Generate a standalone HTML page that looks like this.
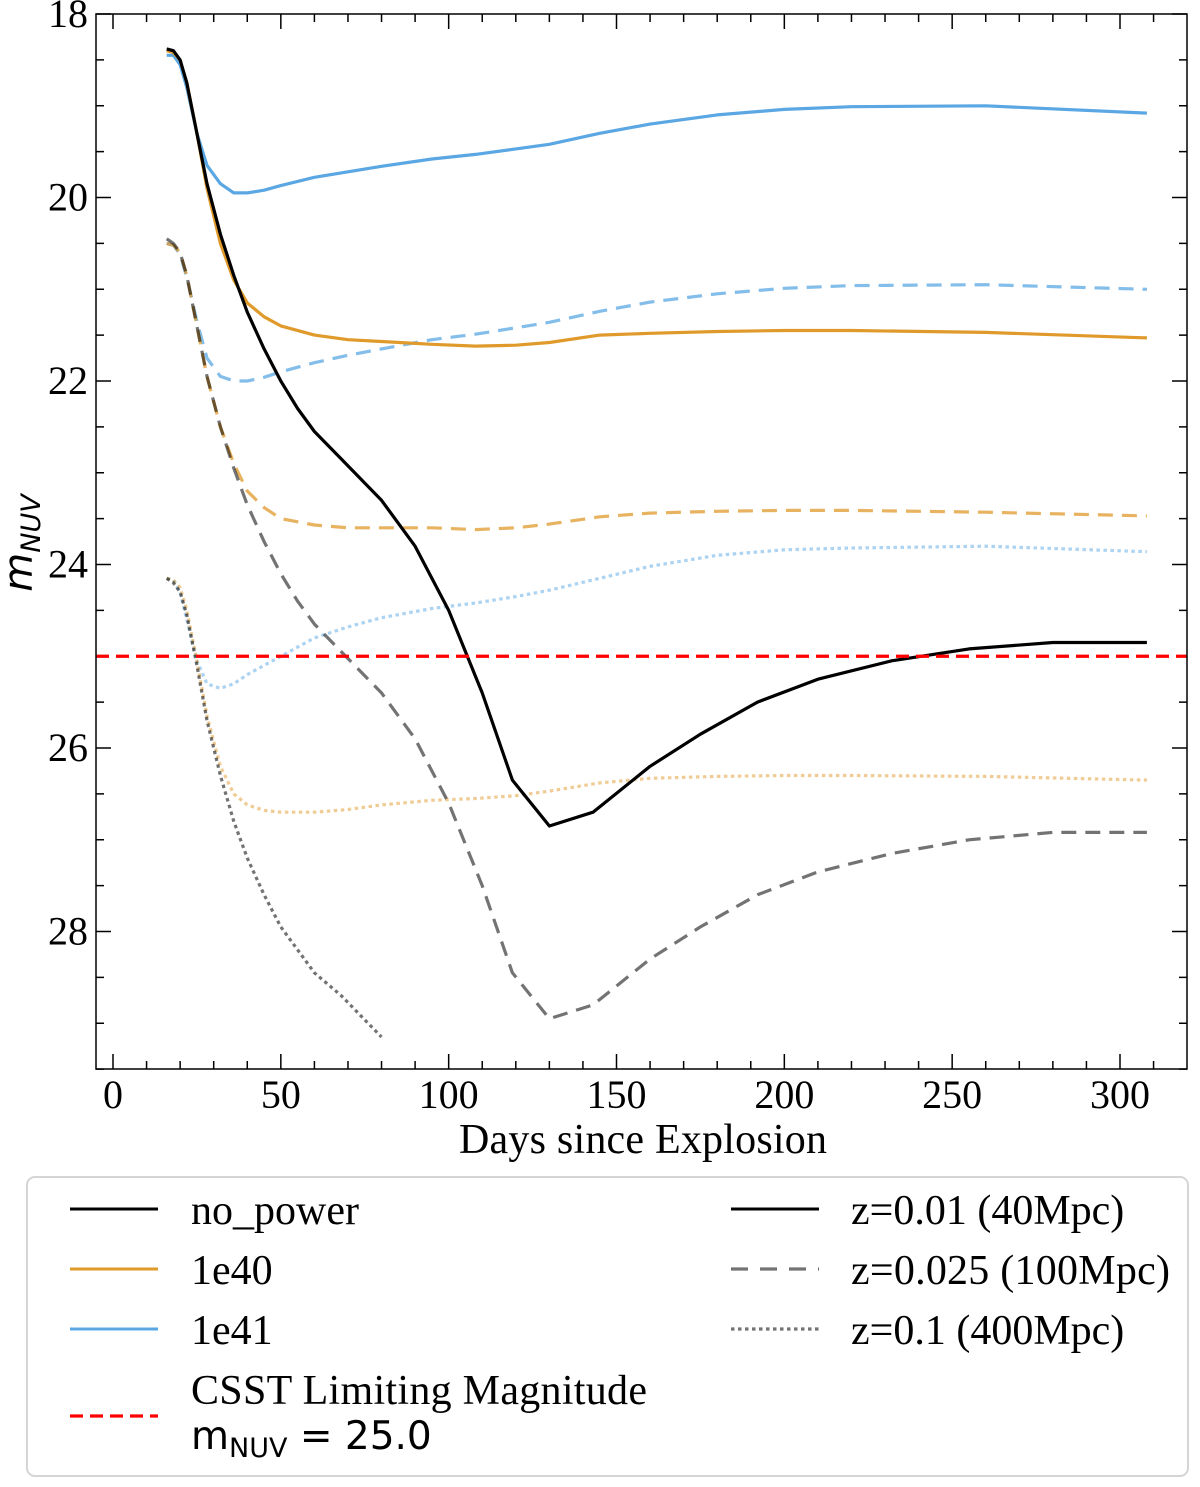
<!DOCTYPE html>
<html><head><meta charset="utf-8"><style>
html,body{margin:0;padding:0;background:#fff;}
svg{display:block;font-family:"Liberation Serif",serif;}
</style></head><body>
<svg id="chart" width="1200" height="1487" viewBox="0 0 1200 1487" xmlns="http://www.w3.org/2000/svg">
<g id="plot"></g>
</svg>
<script>
const days_np = [16,18,20,22,25,28,32,36,40,45,50,55,60,68,80,90,100,110,119,130,143,160,175,192,210,232,255,280,308];
const np_z01 = [18.38,18.4,18.5,18.75,19.3,19.85,20.4,20.85,21.25,21.65,22.0,22.3,22.55,22.85,23.3,23.8,24.5,25.4,26.35,26.85,26.7,26.2,25.85,25.5,25.25,25.05,24.92,24.85,24.85];
const np_z025 = [20.45,20.5,20.6,20.85,21.4,21.95,22.5,22.95,23.35,23.75,24.1,24.4,24.65,24.95,25.4,25.9,26.6,27.5,28.45,28.95,28.8,28.3,27.95,27.6,27.35,27.15,27.0,26.92,26.92];
const days_np01 = [16,18,20,22,25,28,32,36,40,45,50,55,60,68,80];
const np_z1 = [24.15,24.2,24.3,24.55,25.1,25.7,26.3,26.8,27.2,27.6,27.95,28.2,28.45,28.7,29.15];

const days_p = [16,18,20,22,25,28,32,36,40,45,50,60,70,80,95,108,120,130,145,160,180,200,220,260,308];
const e40_z01 = [18.4,18.42,18.5,18.75,19.3,19.9,20.5,20.9,21.15,21.3,21.4,21.5,21.55,21.57,21.6,21.62,21.61,21.58,21.5,21.48,21.46,21.45,21.45,21.47,21.53];
const e40_z025 = [20.5,20.52,20.6,20.85,21.4,21.95,22.5,22.9,23.2,23.38,23.5,23.57,23.6,23.6,23.6,23.62,23.6,23.56,23.48,23.44,23.42,23.41,23.41,23.43,23.47];
const e40_z1 = [24.15,24.17,24.25,24.5,25.05,25.65,26.2,26.5,26.62,26.68,26.7,26.7,26.67,26.62,26.57,26.55,26.52,26.47,26.38,26.33,26.31,26.3,26.3,26.31,26.35];
const e41_z01 = [18.45,18.45,18.55,18.8,19.3,19.65,19.85,19.95,19.95,19.92,19.87,19.78,19.72,19.66,19.58,19.53,19.47,19.42,19.3,19.2,19.1,19.04,19.01,19.0,19.08];
const e41_z025 = [20.5,20.52,20.62,20.87,21.35,21.75,21.95,22.0,22.0,21.96,21.9,21.8,21.72,21.65,21.55,21.49,21.42,21.36,21.24,21.14,21.05,20.99,20.96,20.95,21.0];
const e41_z1 = [24.15,24.17,24.3,24.6,25.05,25.3,25.35,25.3,25.2,25.1,25.0,24.8,24.68,24.58,24.48,24.42,24.35,24.28,24.15,24.02,23.9,23.84,23.82,23.8,23.86];

const xTicks = [0,50,100,150,200,250,300];
const yTicks = [18,20,22,24,26,28];
const limitMag = [25.0];

const L=96,R=1187,T=14,B=1069;
const X = d => 113 + d*(1120-113)/300;
const Y = m => 14 + (m-18)*91.75;
const NS="http://www.w3.org/2000/svg";
const g=document.getElementById('plot');
function mk(tag,attrs,parent){const e=document.createElementNS(NS,tag);for(const k in attrs)e.setAttribute(k,attrs[k]);(parent||g).appendChild(e);return e;}

for(let d=0;d<=320;d+=10){ if(X(d)<L||X(d)>R) continue;
  const major = d%50===0; const len = major?15:8;
  const t1=mk('line',{x1:X(d),x2:X(d),y1:B,y2:B-len,stroke:'#000','stroke-width':1.5});
   
  const t2=mk('line',{x1:X(d),x2:X(d),y1:T,y2:T+len,stroke:'#000','stroke-width':1.5});
   
}
for(let m=18;m<=29.5;m+=0.5){
  const major = m%2===0; const len = major?15:8;
  const t1=mk('line',{x1:L,x2:L+len,y1:Y(m),y2:Y(m),stroke:'#000','stroke-width':1.5});
   
  const t2=mk('line',{x1:R,x2:R-len,y1:Y(m),y2:Y(m),stroke:'#000','stroke-width':1.5});
   
}
xTicks.forEach(v=>{const t=mk('text',{x:X(v),y:1108,'text-anchor':'middle','font-size':40});t.textContent=v;
   });
yTicks.forEach(v=>{const t=mk('text',{x:88,y:Y(v)+13,'text-anchor':'end','font-size':40});t.textContent=v;
   });

function series(days,vals,color,dash,op,name){
  const d=days.map((x,i)=>(i?'L':'M')+X(x).toFixed(1)+','+Y(vals[i]).toFixed(1)).join('');
  const p=mk('path',{d:d,fill:'none',stroke:color,'stroke-width':3.2,'stroke-opacity':op,'stroke-dasharray':dash,'stroke-linejoin':'round'});
   
}
const ORG='#e09a2b', BLU='#5aa7e3';
series(days_p,e41_z1,BLU,'3.5,3.5',0.5,'line-1e41-z0.1');
series(days_p,e40_z1,ORG,'3.5,3.5',0.5,'line-1e40-z0.1');
series(days_np01,np_z1,'#000','3.5,3.5',0.55,'line-no-power-z0.1');
series(days_p,e41_z025,BLU,'15,9',0.75,'line-1e41-z0.025');
series(days_p,e40_z025,ORG,'15,9',0.75,'line-1e40-z0.025');
series(days_np,np_z025,'#000','15,9',0.55,'line-no-power-z0.025');
series(days_p,e41_z01,BLU,'',1,'line-1e41-z0.01');
series(days_p,e40_z01,ORG,'',1,'line-1e40-z0.01');
series(days_np,np_z01,'#000','',1,'line-no-power-z0.01');
const lim=mk('line',{x1:L,x2:R,y1:Y(limitMag[0]),y2:Y(limitMag[0]),stroke:'#ff0000','stroke-width':3.2,'stroke-dasharray':'13,7'});
 

const fr=mk('rect',{x:L,y:T,width:R-L,height:B-T,fill:'none',stroke:'#000','stroke-width':1.5});
 
</script>
<svg style="position:absolute;left:0;top:0" width="1200" height="1487" xmlns="http://www.w3.org/2000/svg">
<text x="643" y="1153" text-anchor="middle" font-size="42" font-family="Liberation Serif, serif" textLength="368">Days since Explosion</text>
<text transform="translate(32,543) rotate(-90)" text-anchor="middle" font-size="40" font-style="italic" font-family="DejaVu Sans, sans-serif">m<tspan font-size="27" dy="8">NUV</tspan></text>
<g font-family="Liberation Serif, serif" font-size="42">
<rect x="27" y="1177" width="1161" height="299" rx="8" fill="#fff" stroke="#d5d5d5" stroke-width="2"/>
<line x1="70" x2="158" y1="1209" y2="1209" stroke="#000" stroke-width="3"/>
<text x="191" y="1224">no_power</text>
<line x1="70" x2="158" y1="1269" y2="1269" stroke="#e09a2b" stroke-width="3"/>
<text x="191" y="1284">1e40</text>
<line x1="70" x2="158" y1="1329" y2="1329" stroke="#5aa7e3" stroke-width="3"/>
<text x="191" y="1344">1e41</text>
<line x1="70" x2="158" y1="1416" y2="1416" stroke="#ff0000" stroke-width="3.2" stroke-dasharray="13,7"/>
<text x="191" y="1404" textLength="456">CSST Limiting Magnitude</text>
<text x="191" y="1449" font-family="DejaVu Sans, sans-serif" font-size="39">m<tspan font-size="27" dy="8">NUV</tspan><tspan dy="-8"> = 25.0</tspan></text>
<line x1="731" x2="819" y1="1209" y2="1209" stroke="#000" stroke-width="3"/>
<text x="851" y="1224">z=0.01 (40Mpc)</text>
<line x1="731" x2="819" y1="1269" y2="1269" stroke="#000" stroke-opacity="0.55" stroke-width="3.2" stroke-dasharray="17,12"/>
<text x="851" y="1284" textLength="319">z=0.025 (100Mpc)</text>
<line x1="731" x2="819" y1="1329" y2="1329" stroke="#000" stroke-opacity="0.55" stroke-width="3.2" stroke-dasharray="3.5,3.5"/>
<text x="851" y="1344">z=0.1 (400Mpc)</text>
</g>
</svg>
</body></html>
